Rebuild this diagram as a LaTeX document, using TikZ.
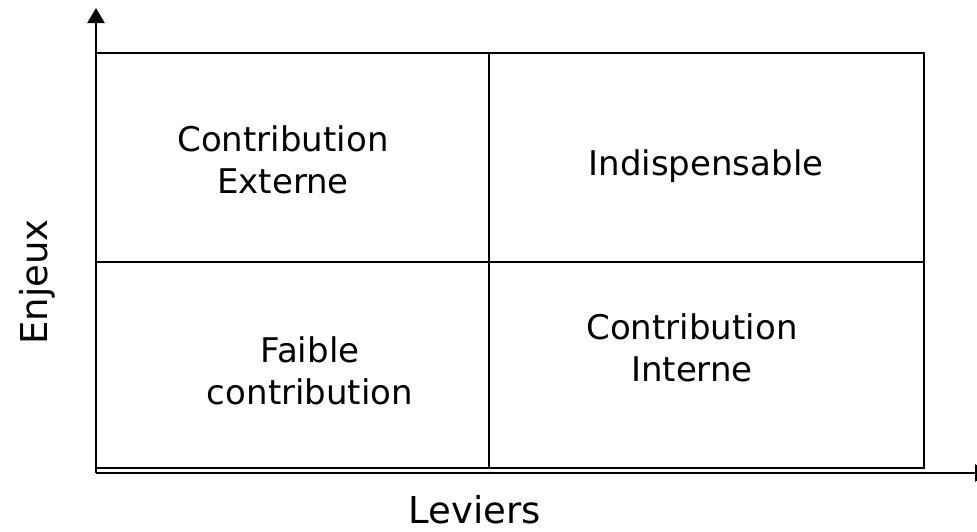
\documentclass[tikz,border=0pt]{standalone}
\usepackage{fontspec}
\setmainfont{DejaVu Sans}
\usetikzlibrary{arrows.meta}
\begin{document}
\begin{tikzpicture}[x=1pt,y=-1pt,
  frame/.style={line width=2.8pt},
  axis/.style={line width=2.6pt,-{Triangle[width=17pt,length=15pt]}},
  cell/.style={align=center,font=\fontsize{34}{42}\selectfont},
  axislabel/.style={font=\fontsize{37}{40}\selectfont}]
  \useasboundingbox (0,0) rectangle (977,531);
  % grid corners
  \coordinate (tl) at (96,53);
  \coordinate (br) at (924,468);
  \coordinate (tm) at (489,53);
  \coordinate (bm) at (489,468);
  \coordinate (ml) at (96,262);
  \coordinate (mr) at (924,262);
  % axes
  \coordinate (o) at (96,473);
  \coordinate (ytip) at (96,8);
  \coordinate (xtip) at (990,473);
  \draw[axis] (o) -- (ytip);
  \draw[axis] (o) -- (xtip);
  % four quadrants
  \draw[frame] (tl) rectangle (br);
  \draw[frame] (tm) -- (bm);
  \draw[frame] (ml) -- (mr);
  % quadrant labels
  \node[cell] (q1) at (283,160) {Contribution\\Externe};
  \node[cell] (q2) at (706,166) {Indispensable};
  \node[cell] (q3) at (310,371) {Faible\\contribution};
  \node[cell] (q4) at (692,348) {Contribution\\Interne};
  % axis labels
  \node[axislabel,rotate=90,anchor=base] (ylab) at (47,282) {Enjeux};
  \node[axislabel,anchor=base] (xlab) at (475,523) {Leviers};
\end{tikzpicture}
\end{document}
